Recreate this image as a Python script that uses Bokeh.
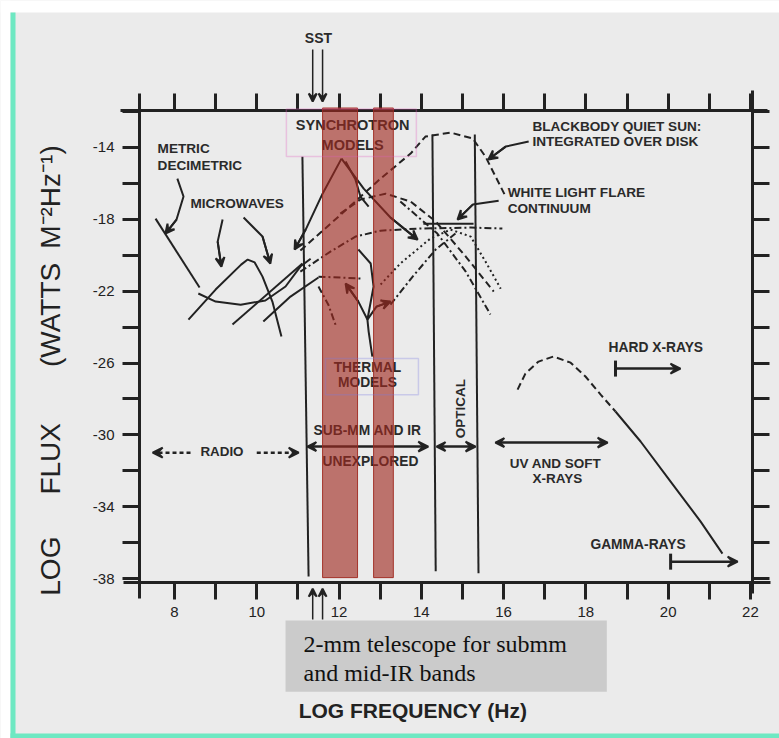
from bokeh.plotting import figure
from bokeh.models import (FixedTicker, LinearAxis, Range1d, Label, Arrow,
                          VeeHead, TeeHead, BoxAnnotation)
from bokeh.embed import file_html
from bokeh.resources import INLINE

# ---------------- data: log10 frequency (Hz) vs log10 flux (W m^-2 Hz^-1) ----------------
x_ticks = list(range(8, 23))
y_ticks = list(range(-38, -11, 2))
x_tick_labels = {v: (str(v) if v % 2 == 0 else "") for v in x_ticks}
y_tick_labels = {v: (str(v) if (v + 14) % 4 == 0 else "") for v in y_ticks}

# plotted window of the diagram
x_min, x_max = 7.15, 22.05
y_min, y_max = -38.22, -11.94

# radio: metric / decimetric and microwave spectra
metric_x = [7.54, 8.61]
metric_y = [-17.96, -21.80]
mw_hump_x = [8.34, 9.00, 9.62, 9.78, 9.95, 10.14, 10.38, 10.60]
mw_hump_y = [-23.58, -21.91, -20.52, -20.24, -20.40, -21.19, -22.58, -24.53]
mw_u_x = [8.58, 9.00, 9.61, 10.21, 10.70, 11.06, 11.31]
mw_u_y = [-22.13, -22.58, -22.75, -22.52, -21.74, -20.63, -20.19]
mw_c_x = [9.41, 11.11]
mw_c_y = [-23.86, -20.46]
mw_d_x = [10.16, 10.82, 11.50]
mw_d_y = [-23.69, -22.30, -21.24]

# synchrotron model peak
sync_left_x = [12.06, 11.60, 11.19, 10.92]
sync_left_y = [-14.62, -16.57, -18.57, -19.68]
sync_right_x = [12.06, 12.60, 13.25, 13.91]
sync_right_y = [-14.62, -16.29, -17.90, -19.13]
sync_curl_x = [12.16, 12.40, 12.52, 12.72]
sync_curl_y = [-14.78, -15.79, -16.73, -17.29]

# blackbody quiet sun (integrated over disk)
bb_x = [11.06, 12.04, 13.01, 13.74, 14.10, 14.71, 15.25, 15.56, 16.05]
bb_y = [-19.74, -17.74, -15.73, -14.34, -13.39, -13.17, -13.50, -14.51, -16.73]

# other sub-mm / IR / optical model curves
d2_x = [11.06, 11.79, 12.40, 13.01, 13.98, 15.20, 15.97]
d2_y = [-20.91, -19.80, -18.96, -18.63, -18.51, -18.46, -18.51]
wl_bar_x = [14.05, 15.27]
wl_bar_y = [-18.24, -18.24]
d3_x = [11.50, 12.57]
d3_y = [-21.19, -21.30]
arc_x = [12.03, 12.52, 13.13, 13.74, 14.35, 15.08, 15.76]
arc_y = [-17.68, -16.90, -16.57, -17.01, -18.12, -20.07, -22.02]
desc_x = [13.49, 14.39, 15.08, 15.68]
desc_y = [-17.01, -18.79, -20.91, -23.30]
wlf_x = [13.01, 13.49, 14.22, 14.71, 15.20, 15.56, 15.93]
wlf_y = [-21.63, -20.46, -19.07, -18.57, -18.96, -20.35, -21.86]
rise_x = [13.25, 13.79, 14.35, 14.83]
rise_y = [-22.75, -21.19, -19.68, -18.79]
band_desc_x = [11.50, 11.74, 11.94]
band_desc_y = [-21.74, -22.75, -24.03]

# thermal model pointers
th_stem_x = [12.47, 12.77, 12.84, 12.69, 12.72, 12.81]
th_stem_y = [-19.68, -20.46, -21.74, -23.58, -24.25, -25.64]
th_left_x = [12.69, 12.47, 12.16]
th_left_y = [-23.58, -22.58, -21.58]
th_right_x = [12.69, 12.91, 13.25]
th_right_y = [-23.58, -22.86, -22.58]

# pointer arrows from labels
ptr_metric_x = [8.07, 8.22, 8.05, 7.78]
ptr_metric_y = [-15.73, -16.73, -18.01, -18.79]
ptr_mw1_x = [9.17, 9.05, 9.14]
ptr_mw1_y = [-18.01, -19.24, -20.63]
ptr_mw2_x = [9.68, 10.14, 10.33]
ptr_mw2_y = [-17.90, -18.96, -20.46]
ptr_bb_x = [16.61, 16.05, 15.63]
ptr_bb_y = [-13.67, -13.95, -14.67]
ptr_wlf_x = [15.88, 15.25, 14.88]
ptr_wlf_y = [-16.96, -17.18, -18.01]

# hard X-ray / gamma-ray spectrum
xr_dash_x = [16.34, 16.53, 16.85, 17.21, 17.63, 17.99, 18.36, 18.72]
xr_dash_y = [-27.48, -26.59, -25.92, -25.64, -25.98, -26.75, -27.76, -28.70]
xr_solid_x = [18.72, 19.33, 20.06, 20.79, 21.32]
xr_solid_y = [-28.70, -30.37, -32.60, -34.83, -36.61]

# band boundaries (vertical lines)
v1_x = [11.11, 11.26]
v1_y = [-14.51, -37.89]
v2_x = [14.27, 14.35]
v2_y = [-13.28, -37.60]
v3_x = [15.30, 15.39]
v3_y = [-13.28, -37.70]

# 2-mm telescope bands
band_left = [11.60, 12.84]
band_right = [12.45, 13.32]
band_bottom = -37.95
band_top = -11.80

# region arrows: (x_start, y_start, x_end, y_end)
hard_arrow = (18.72, -26.31, 20.30, -26.31)
gamma_arrow = (20.06, -37.06, 21.69, -37.06)
uv_arrow = (15.80, -30.43, 18.53, -30.43)
radio_left_arrow = (8.39, -30.99, 7.47, -30.99)
radio_right_arrow = (10.00, -30.99, 11.02, -30.99)
submm_arrow = (11.23, -30.65, 14.17, -30.65)
optical_arrow = (14.37, -30.65, 15.32, -30.65)
sst_x = [11.36, 11.60]
sst_top_y = (-8.55, -11.44)
sst_bottom_y = (-40.28, -38.56)

# ---------------- figure ----------------
FONT = "Liberation Sans"
INK = "#222222"
BG = "#ebebeb"
W, H = 779, 738
PX_X = 41.14   # pixels per decade of frequency
PX_Y = 17.96   # pixels per decade of flux
LEFT_PX, TOP_PX = 139, 110

x0 = x_min - LEFT_PX / PX_X
y1 = y_max + TOP_PX / PX_Y
p = figure(width=W, height=H,
           x_range=Range1d(x0, x0 + W / PX_X), y_range=Range1d(y1 - H / PX_Y, y1),
           output_backend="svg", toolbar_location=None,
           x_axis_location=None, y_axis_location=None,
           background_fill_color=BG, border_fill_color=BG, outline_line_color=None,
           min_border_left=0, min_border_right=0, min_border_top=0, min_border_bottom=0)
p.grid.visible = False

# slide frame decorations
p.add_layout(BoxAnnotation(left=x0, right=x0 + 10 / PX_X, fill_color="white", fill_alpha=1, line_color=None))
p.add_layout(BoxAnnotation(bottom=y1 - 12 / PX_Y, top=y1, fill_color="white", fill_alpha=1, line_color=None))
p.add_layout(BoxAnnotation(left=x0 + 10 / PX_X, right=x0 + 15 / PX_X, top=y1 - 12 / PX_Y,
                           fill_color="#6ee8c2", fill_alpha=1, line_color=None))
p.add_layout(BoxAnnotation(left=x0 + 10 / PX_X, bottom=y1 - H / PX_Y, top=y1 - 733 / PX_Y,
                           fill_color="#6ee8c2", fill_alpha=1, line_color=None))


def make_axis(ticks, labels, show, loc, bounds):
    return LinearAxis(ticker=FixedTicker(ticks=ticks), fixed_location=loc, bounds=bounds,
                      major_label_overrides=(labels if show else {v: "" for v in ticks}),
                      axis_line_width=3, axis_line_color=INK,
                      major_tick_line_width=3, major_tick_line_color=INK,
                      major_tick_in=0, major_tick_out=17, minor_tick_line_color=None,
                      major_label_text_font=FONT, major_label_text_font_size="15px",
                      major_label_text_color=INK,
                      major_label_standoff=(8 if show else 0))


def label_axis(text, loc, bounds, size, style, standoff):
    return LinearAxis(ticker=FixedTicker(ticks=[]), fixed_location=loc, bounds=bounds,
                      axis_line_color=None, major_tick_out=0, major_tick_in=0,
                      minor_tick_line_color=None, major_label_standoff=0,
                      axis_label=text, axis_label_text_font=FONT,
                      axis_label_text_font_size=size, axis_label_text_font_style=style,
                      axis_label_text_color=INK, axis_label_standoff=standoff)


p.add_layout(make_axis(x_ticks, x_tick_labels, True, y_min, (x_min - 0.39, x_max + 0.44)), "below")
p.add_layout(label_axis("LOG FREQUENCY (Hz)", y_min, (12.0, 15.58), "21px", "bold", 116), "below")
p.add_layout(make_axis(x_ticks, x_tick_labels, False, y_max, (x_min - 0.46, x_max + 0.36)), "above")

p.add_layout(make_axis(y_ticks, y_tick_labels, True, x_min, (y_min - 0.89, y_max + 0.94)), "left")
p.add_layout(label_axis("LOG\u2003\u2002FLUX\u2003\u2003(WATTS\u2002M\u207b\u00b2Hz\u207b\u00b9)",
                        x_min, (-30.0, -22.84), "28px", "normal", 74), "left")
p.add_layout(make_axis(y_ticks, y_tick_labels, False, x_max, (y_min - 0.62, y_max + 1.11)), "right")

solid = dict(line_color=INK, line_width=2)
dashed = dict(line_color=INK, line_width=2, line_dash="7 4")
dotted = dict(line_color=INK, line_width=2, line_dash="2 3")
dashdot = dict(line_color=INK, line_width=2, line_dash="7 3 2 3")

for xs, ys, st in [
    (metric_x, metric_y, solid), (mw_hump_x, mw_hump_y, solid), (mw_u_x, mw_u_y, solid),
    (mw_c_x, mw_c_y, solid), (mw_d_x, mw_d_y, solid),
    (sync_left_x, sync_left_y, solid), (sync_right_x, sync_right_y, solid),
    (sync_curl_x, sync_curl_y, solid),
    (bb_x, bb_y, dashed), (d2_x, d2_y, dashdot), (wl_bar_x, wl_bar_y, solid),
    (d3_x, d3_y, dashdot), (arc_x, arc_y, dashed), (desc_x, desc_y, dashdot),
    (wlf_x, wlf_y, dotted), (rise_x, rise_y, dashdot), (band_desc_x, band_desc_y, dashdot),
    (th_stem_x, th_stem_y, solid), (th_left_x, th_left_y, solid), (th_right_x, th_right_y, solid),
    (ptr_metric_x, ptr_metric_y, solid), (ptr_mw1_x, ptr_mw1_y, solid),
    (ptr_mw2_x, ptr_mw2_y, solid), (ptr_bb_x, ptr_bb_y, solid), (ptr_wlf_x, ptr_wlf_y, solid),
    (xr_dash_x, xr_dash_y, dashed), (xr_solid_x, xr_solid_y, solid),
    (v1_x, v1_y, solid), (v2_x, v2_y, solid), (v3_x, v3_y, solid),
]:
    p.line(xs, ys, **st)


def head(size=9):
    return VeeHead(size=size, line_color=INK, line_width=2, fill_color=INK)


# arrowheads at the ends of curved pointers
for xs, ys in [(ptr_metric_x, ptr_metric_y), (ptr_mw1_x, ptr_mw1_y), (ptr_mw2_x, ptr_mw2_y),
               (ptr_bb_x, ptr_bb_y), (ptr_wlf_x, ptr_wlf_y), (sync_left_x, sync_left_y),
               (sync_right_x, sync_right_y), (th_left_x, th_left_y), (th_right_x, th_right_y)]:
    p.add_layout(Arrow(end=head(), x_start=xs[-2], y_start=ys[-2], x_end=xs[-1], y_end=ys[-1],
                       line_color=INK, line_width=2))

for a, both, tee, dash in [(hard_arrow, False, True, None), (gamma_arrow, False, True, None),
                           (uv_arrow, True, False, None), (submm_arrow, True, False, None),
                           (optical_arrow, True, False, None),
                           (radio_left_arrow, False, False, "4 3"),
                           (radio_right_arrow, False, False, "4 3")]:
    start = (head() if both else (TeeHead(size=16, line_color=INK, line_width=3) if tee else None))
    kw = dict(line_color=INK, line_width=2.5)
    if dash:
        kw["line_dash"] = dash
    p.add_layout(Arrow(start=start, end=head(10), x_start=a[0], y_start=a[1], x_end=a[2], y_end=a[3], **kw))

for sx in sst_x:
    p.add_layout(Arrow(end=head(8), x_start=sx, y_start=sst_top_y[0], x_end=sx, y_end=sst_top_y[1],
                       line_color=INK, line_width=1.5))
    p.add_layout(Arrow(end=head(8), x_start=sx, y_start=sst_bottom_y[0], x_end=sx, y_end=sst_bottom_y[1],
                       line_color=INK, line_width=1.5))

# ---------------- text ----------------
texts = [
    ("SST", 11.50, -7.93, "center", 0, "14px"),
    ("METRIC", 7.59, -14.06, "left", 0, "13.6px"),
    ("DECIMETRIC", 7.59, -15.01, "left", 0, "13.6px"),
    ("MICROWAVES", 8.39, -17.12, "left", 0, "13.6px"),
    ("SYNCHROTRON", 12.33, -12.72, "center", 0, "14.5px"),
    ("MODELS", 12.33, -13.84, "center", 0, "14.5px"),
    ("BLACKBODY QUIET SUN:", 16.70, -12.84, "left", 0, "13.6px"),
    ("INTEGRATED OVER DISK", 16.70, -13.67, "left", 0, "13.6px"),
    ("WHITE LIGHT FLARE", 16.10, -16.51, "left", 0, "13.6px"),
    ("CONTINUUM", 16.10, -17.40, "left", 0, "13.6px"),
    ("HARD X-RAYS", 18.55, -25.14, "left", 0, "13.8px"),
    ("GAMMA-RAYS", 18.11, -36.11, "left", 0, "13.8px"),
    ("UV AND SOFT", 17.26, -31.60, "center", 0, "13.5px"),
    ("X-RAYS", 17.31, -32.43, "center", 0, "13.5px"),
    ("OPTICAL", 14.95, -28.54, "center", 90, "13.5px"),
    ("SUB-MM AND IR", 11.38, -29.76, "left", 0, "13.8px"),
    ("UNEXPLORED", 11.60, -31.49, "left", 0, "13.8px"),
    ("RADIO", 8.63, -30.93, "left", 0, "13.4px"),
    ("THERMAL", 12.69, -26.25, "center", 0, "13.8px"),
    ("MODELS", 12.69, -27.09, "center", 0, "13.8px"),
]
for t, x, y, al, ang, fs in texts:
    p.add_layout(Label(x=x, y=y, text=t, text_align=al, text_baseline="middle", angle=ang,
                       angle_units="deg", text_font=FONT, text_font_style="bold",
                       text_font_size=fs, text_color="#2a2a2a"))

p.add_layout(Label(x=10.70, y=-40.34, text="2-mm telescope for submm\nand mid-IR bands",
                   text_align="left", text_baseline="top", text_font="Liberation Serif",
                   text_font_size="24px", text_color="#111111", text_line_height=1.12,
                   background_fill_color="#cbcbcb",
                   padding=dict(left=18, right=40, top=10, bottom=6)))

# ---------------- highlighted bands and model boxes ----------------
for bl, br in zip(band_left, band_right):
    p.add_layout(BoxAnnotation(left=bl, right=br, bottom=band_bottom, top=band_top,
                               fill_color="#a0281e", fill_alpha=0.62,
                               line_color="#a0281e", line_width=1, line_alpha=0.9))

p.add_layout(BoxAnnotation(left=10.72, right=13.88, bottom=-14.50, top=-11.86,
                           fill_alpha=0, line_color="#e060c0", line_width=1.5))
p.add_layout(BoxAnnotation(left=11.67, right=13.93, bottom=-27.76, top=-25.75,
                           fill_alpha=0, line_color="#7b7be0", line_width=1.5))

open("out.html", "w").write(file_html(p, INLINE))
